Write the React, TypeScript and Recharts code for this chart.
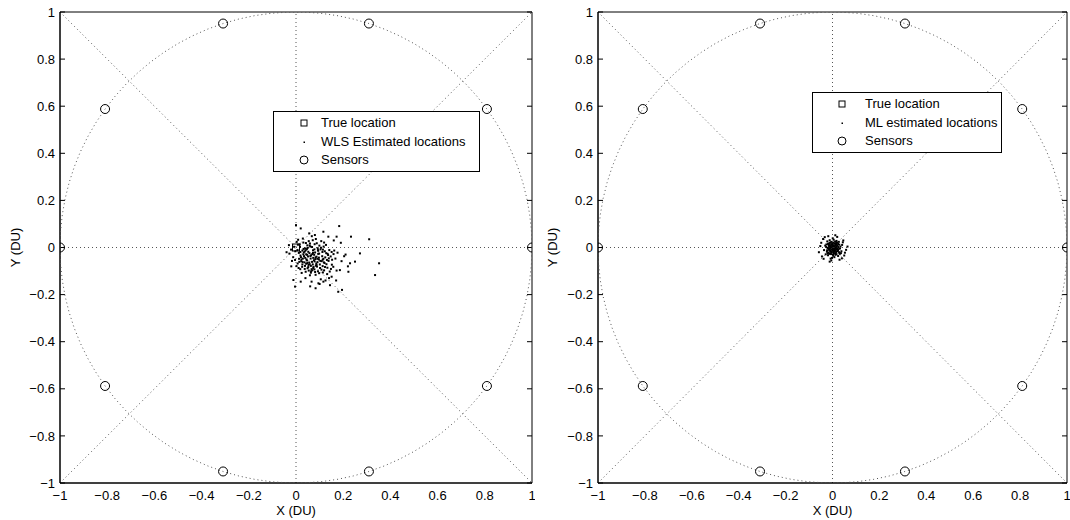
import { Legend, ReferenceLine, Scatter, ScatterChart, XAxis, YAxis } from "recharts";

const FONT = "'Liberation Sans', Arial, Helvetica, sans-serif";
const GUIDE = "#555";

const TICKS = [-1, -0.8, -0.6, -0.4, -0.2, 0, 0.2, 0.4, 0.6, 0.8, 1];
const TICK_LABELS = ["−1", "−0.8", "−0.6", "−0.4", "−0.2", "0", "0.2", "0.4", "0.6", "0.8", "1"];

const SENSORS = [
  { x: 1, y: 0 },
  { x: 0.809, y: 0.588 },
  { x: 0.309, y: 0.951 },
  { x: -0.309, y: 0.951 },
  { x: -0.809, y: 0.588 },
  { x: -1, y: 0 },
  { x: -0.809, y: -0.588 },
  { x: -0.309, y: -0.951 },
  { x: 0.309, y: -0.951 },
  { x: 0.809, y: -0.588 },
];

const TRUE_LOCATION = [{ x: 0, y: 0 }];

// WLS estimates
const WLS_POINTS: [number, number][] = [
  [0.052, -0.018], [0.027, -0.013], [0.073, -0.044], [0.008, 0.012], [0.094, -0.027], [0.036, -0.063],
  [0.061, 0.004], [0.019, -0.034], [0.113, -0.052], [0.084, -0.077], [-0.003, -0.016], [0.047, -0.055],
  [0.128, -0.024], [0.058, -0.071], [0.031, 0.021], [0.104, -0.008], [0.069, -0.097], [0.013, -0.048],
  [0.043, -0.029], [0.121, -0.066], [0.079, 0.014], [-0.012, -0.041], [0.064, -0.033], [0.147, -0.038],
  [0.091, -0.062], [0.017, 0.003], [0.054, 0.027], [0.108, -0.094], [0.026, -0.082], [0.072, -0.012],
  [0.138, -0.057], [-0.021, -0.009], [0.097, -0.043], [0.039, -0.004], [0.063, -0.107], [0.082, -0.049],
  [0.007, -0.068], [0.117, 0.004], [0.049, -0.088], [0.088, 0.018], [0.022, -0.058], [0.159, -0.028],
  [0.068, -0.061], [0.034, -0.037], [0.112, -0.019], [0.003, 0.024], [0.057, -0.024], [0.133, -0.086],
  [0.041, -0.103], [0.077, -0.031], [0.101, -0.072], [-0.028, -0.026], [0.048, 0.009], [0.124, -0.042],
  [0.071, 0.031], [0.018, -0.092], [0.093, -0.101], [0.152, -0.073], [0.037, -0.017], [0.062, -0.047],
  [0.012, -0.023], [0.109, -0.058], [0.083, -0.116], [0.029, 0.038], [0.141, -0.011], [0.053, -0.074],
  [0.099, 0.008], [0.074, -0.083], [-0.008, 0.003], [0.119, -0.097], [0.059, 0.017], [0.087, -0.039],
  [0.024, -0.108], [0.167, -0.047], [0.044, -0.051], [0.081, -0.021], [0.131, -0.053], [0.002, -0.079],
  [0.066, -0.092], [0.107, 0.027], [0.033, -0.021], [0.076, -0.054], [0.148, -0.091], [0.051, -0.038],
  [0.102, -0.087], [0.009, 0.033], [0.086, -0.068], [0.122, -0.016], [0.038, -0.078], [0.092, -0.003],
  [0.021, -0.041], [0.136, -0.032], [0.056, -0.064], [0.067, 0.048], [0.114, -0.106], [0.028, -0.062],
  [0.158, -0.082], [0.046, -0.007], [0.098, -0.026], [0.078, -0.093], [-0.017, -0.057], [0.127, 0.011],
  [0.061, -0.036], [0.042, 0.019], [0.089, -0.081], [0.011, -0.087], [0.118, -0.063], [0.069, -0.028],
  [0.176, -0.022], [0.054, -0.098], [0.032, -0.006], [0.103, -0.057], [0.084, 0.036], [0.143, -0.102],
  [0.016, 0.013], [0.063, -0.078], [0.111, -0.037], [0.039, -0.044], [0.094, -0.014], [0.129, -0.071],
  [-0.004, -0.053], [0.072, -0.023], [0.048, -0.066], [0.119, 0.021], [0.079, -0.059], [0.027, -0.072],
  [0.153, -0.052], [0.098, -0.109], [0.058, 0.008], [0.006, -0.011], [0.091, -0.048], [0.043, -0.069],
  [0.113, -0.079], [0.071, -0.072], [0.172, -0.098], [0.023, -0.051], [0.134, -0.027], [0.049, -0.002],
  [0.081, -0.104], [0.106, -0.001], [0.064, -0.101], [0.031, -0.029], [0.123, -0.083], [0.041, -0.012],
  [0.087, -0.074], [0.193, -0.058], [0.073, -0.088], [0.139, -0.046], [0.018, -0.019], [0.114, -0.009],
  [0.052, -0.083], [0.083, -0.042], [0.162, -0.013], [0.059, -0.118], [0.097, -0.051], [0.014, -0.061],
  [0.132, -0.113], [0.037, -0.091], [0.093, -0.011], [0.068, 0.002], [0.029, -0.047], [0.116, -0.048],
  [0.204, -0.037], [0.047, -0.031], [0.078, -0.008], [0.151, -0.019],
  [0.183, 0.091], [0.02, 0.081], [0.0, 0.095], [0.137, 0.046], [0.233, 0.046], [0.31, 0.035],
  [0.271, -0.025], [0.352, -0.067], [0.335, -0.117], [0.229, -0.067], [0.186, -0.096],
  [0.222, -0.103], [0.179, -0.188], [0.083, -0.173], [0.095, -0.152], [0.116, -0.145],
  [0.066, -0.145], [0.02, -0.145], [-0.004, -0.166], [-0.011, -0.138], [0.151, -0.124],
  [0.056, 0.06], [0.08, 0.053], [0.116, 0.067], [0.172, 0.046], [0.1, -0.155], [0.125, -0.14],
  [0.105, -0.135], [0.21, -0.03], [0.22, -0.08], [0.19, 0.02], [-0.04, -0.02], [-0.03, 0.01],
  [-0.02, -0.08], [0.04, -0.13], [0.14, -0.13], [0.16, 0.03], [0.06, -0.165], [0.17, -0.14],
  [0.25, -0.06], [0.144, -0.16], [0.195, -0.18],
];

// ML estimates
const ML_POINTS: [number, number][] = [
  [0.002, -0.004], [0.011, -0.012], [-0.008, 0.006], [0.018, 0.003], [-0.015, -0.009],
  [0.004, -0.021], [0.009, 0.017], [-0.006, -0.028], [0.026, -0.007], [-0.002, 0.011],
  [-0.019, 0.015], [0.013, -0.031], [0.021, 0.009], [-0.027, 0.002], [0.001, -0.013],
  [0.007, 0.004], [-0.011, -0.006], [0.016, -0.019], [-0.021, -0.002], [-0.004, 0.024],
  [0.029, 0.012], [-0.009, -0.001], [0.012, -0.024], [-0.024, -0.018], [0.019, 0.021],
  [0.003, -0.035], [-0.013, 0.019], [0.006, 0.009], [0.031, -0.027], [-0.017, -0.022],
  [0.0, 0.016], [0.023, -0.011], [-0.007, -0.017], [0.008, -0.041], [-0.031, 0.008],
  [0.017, 0.028], [-0.002, -0.044], [-0.022, 0.026], [0.034, 0.004], [-0.012, 0.031],
  [0.038, -0.016], [-0.036, -0.011], [0.005, 0.033], [-0.019, -0.033], [0.024, -0.036],
  [0.001, 0.039], [-0.029, -0.029], [0.041, 0.011], [-0.008, -0.047], [0.027, 0.024],
  [0.014, -0.002], [-0.004, -0.008], [0.009, -0.015], [-0.014, 0.003], [0.003, 0.006],
  [0.02, -0.005], [-0.01, -0.014], [0.015, 0.012], [-0.005, 0.014], [0.01, -0.008],
  [-0.018, -0.004], [0.006, -0.026], [0.022, -0.015], [-0.012, 0.01], [0.0, -0.009],
  [0.013, 0.007], [-0.003, -0.02], [0.025, 0.002], [-0.016, 0.008], [0.007, -0.018],
  [0.017, -0.028], [-0.009, -0.024], [0.004, 0.021], [0.028, -0.02], [-0.023, -0.012],
  [0.011, 0.025], [-0.001, 0.005], [0.019, -0.009], [-0.006, 0.001], [0.008, -0.006],
  [0.032, -0.004], [-0.026, 0.013], [0.002, -0.03], [0.015, 0.018], [-0.013, -0.027],
  [0.024, 0.015], [-0.008, 0.022], [0.005, -0.011], [0.036, -0.024], [-0.02, -0.025],
  [0.058, -0.01], [-0.052, 0.006], [0.046, 0.03], [-0.04, 0.036], [0.012, 0.052],
  [-0.018, 0.048], [0.05, -0.034], [-0.045, -0.038], [0.03, -0.052], [-0.012, -0.06],
  [0.064, 0.004], [-0.058, -0.02], [0.04, -0.046], [-0.033, 0.044], [0.02, 0.045],
  [0.044, 0.022], [-0.048, 0.02], [-0.005, -0.055], [0.053, -0.022], [-0.038, -0.048],
];

// dotted unit circle guide (angles in degrees)
const CIRCLE_ANGLES = Array.from({ length: 91 }, (_, i) => i * 4);
const CIRCLE = CIRCLE_ANGLES.map((a) => ({
  x: Math.cos((a * Math.PI) / 180),
  y: Math.sin((a * Math.PI) / 180),
}));

const toXY = (pts: [number, number][]) => pts.map(([x, y]) => ({ x, y }));

const tickFmt = (v: number) => TICK_LABELS[TICKS.indexOf(v)] ?? String(v);

const Nothing = () => <g />;
const SensorShape = (p: any) => (
  <circle cx={p.cx} cy={p.cy} r={4.5} fill="none" stroke="#000" strokeWidth={1} />
);
const SquareShape = (p: any) => (
  <rect x={p.cx - 3.5} y={p.cy - 3.5} width={7} height={7} fill="none" stroke="#000" strokeWidth={1} />
);
const DotShape = (p: any) => <rect x={p.cx - 1} y={p.cy - 1} width={2} height={2} fill="#000" />;

function LegendBox({ label, width, iconX, textX }: { label: string; width: number; iconX: number; textX: number }) {
  const rows = [
    { key: "sq", text: "True location" },
    { key: "dot", text: label },
    { key: "circ", text: "Sensors" },
  ];
  return (
    <div
      style={{
        width,
        height: 61,
        boxSizing: "border-box",
        border: "1px solid #000",
        background: "#fff",
        position: "relative",
        fontFamily: FONT,
        fontSize: 13,
        color: "#000",
      }}
    >
      {rows.map((r, i) => (
        <div key={r.key} style={{ position: "absolute", left: 0, top: 2 + i * 18.5, height: 18.5, width: "100%" }}>
          <svg width={14} height={14} style={{ position: "absolute", left: iconX - 7, top: 2 }}>
            {r.key === "sq" && <rect x={4} y={4} width={6} height={6} fill="none" stroke="#000" />}
            {r.key === "dot" && <rect x={6.5} y={6.5} width={1.5} height={1.5} fill="#000" />}
            {r.key === "circ" && <circle cx={7} cy={7} r={4} fill="none" stroke="#000" />}
          </svg>
          <span style={{ position: "absolute", left: textX, top: 0, lineHeight: "18.5px", whiteSpace: "nowrap" }}>
            {r.text}
          </span>
        </div>
      ))}
    </div>
  );
}

type PanelProps = {
  points: [number, number][];
  label: string;
  yAxisWidth: number;
  yLabelOffset: number;
  legend: { left: number; top: number; width: number; iconX: number; textX: number };
};

function Panel({ points, label, yAxisWidth, yLabelOffset, legend }: PanelProps) {
  const tickStyle = { fill: "#000", fontSize: 13, fontFamily: FONT };
  const axisLine = { stroke: "#000", strokeWidth: 1 };
  const guide = { stroke: GUIDE, strokeWidth: 1, strokeDasharray: "1 3" };
  // mirrored axes: inward tick marks on all four sides of the box
  const boxAxis = {
    type: "number" as const,
    domain: [-1, 1] as [number, number],
    ticks: TICKS,
    interval: 0 as const,
    allowDataOverflow: true,
    mirror: true,
    tickSize: 5,
    tick: Nothing,
    axisLine,
    tickLine: axisLine,
  };
  return (
    <ScatterChart width={535} height={520} margin={{ top: 12, right: 3, bottom: 0, left: 0 }} style={{ fontFamily: FONT }}>
      <XAxis
        xAxisId="b"
        type="number"
        dataKey="x"
        domain={[-1, 1]}
        ticks={TICKS}
        interval={0}
        allowDataOverflow
        height={37}
        tickSize={0}
        tickMargin={8}
        tickFormatter={tickFmt}
        tick={tickStyle}
        axisLine={axisLine}
        tickLine={false}
        label={{ value: "X (DU)", position: "insideBottom", offset: 5, fill: "#000", fontSize: 13 }}
      />
      <XAxis xAxisId="bm" orientation="bottom" height={1} {...boxAxis} />
      <XAxis xAxisId="t" orientation="top" height={1} {...boxAxis} />
      <YAxis
        yAxisId="l"
        type="number"
        dataKey="y"
        domain={[-1, 1]}
        ticks={TICKS}
        interval={0}
        allowDataOverflow
        width={yAxisWidth}
        tickSize={0}
        tickMargin={5}
        tickFormatter={tickFmt}
        tick={tickStyle}
        axisLine={axisLine}
        tickLine={false}
        label={{
          value: "Y (DU)",
          angle: -90,
          position: "insideLeft",
          offset: yLabelOffset,
          fill: "#000",
          fontSize: 13,
          style: { textAnchor: "middle" },
        }}
      />
      <YAxis yAxisId="lm" orientation="left" width={1} {...boxAxis} />
      <YAxis yAxisId="r" orientation="right" width={1} {...boxAxis} />
      <ReferenceLine xAxisId="b" yAxisId="l" y={0} {...guide} />
      <ReferenceLine xAxisId="b" yAxisId="l" x={0} {...guide} />
      <ReferenceLine xAxisId="b" yAxisId="l" segment={[{ x: -1, y: -1 }, { x: 1, y: 1 }]} {...guide} />
      <ReferenceLine xAxisId="b" yAxisId="l" segment={[{ x: -1, y: 1 }, { x: 1, y: -1 }]} {...guide} />
      <Scatter
        xAxisId="b"
        yAxisId="l"
        data={CIRCLE}
        line={guide}
        shape={Nothing}
        isAnimationActive={false}
        legendType="none"
      />
      <Scatter xAxisId="b" yAxisId="l" data={toXY(points)} shape={DotShape} isAnimationActive={false} />
      <Scatter xAxisId="b" yAxisId="l" data={TRUE_LOCATION} shape={SquareShape} isAnimationActive={false} />
      <Scatter xAxisId="b" yAxisId="l" data={SENSORS} shape={SensorShape} isAnimationActive={false} />
      <Legend
        layout="vertical"
        align="center"
        verticalAlign="middle"
        wrapperStyle={{ left: legend.left, top: legend.top, width: legend.width, height: 61 }}
        content={() => (
          <LegendBox label={label} width={legend.width} iconX={legend.iconX} textX={legend.textX} />
        )}
      />
    </ScatterChart>
  );
}

export default function App() {
  return (
    <div style={{ width: 1070, height: 520, display: "flex", background: "#fff" }}>
      <style>{"body{margin:0;background:#fff}"}</style>
      <Panel
        points={WLS_POINTS}
        label="WLS Estimated locations"
        yAxisWidth={60}
        yLabelOffset={15}
        legend={{ left: 273, top: 111, width: 207, iconX: 30, textX: 47 }}
      />
      <Panel
        points={ML_POINTS}
        label="ML estimated locations"
        yAxisWidth={63}
        yLabelOffset={17}
        legend={{ left: 812 - 535, top: 92, width: 190, iconX: 29, textX: 52 }}
      />
    </div>
  );
}
